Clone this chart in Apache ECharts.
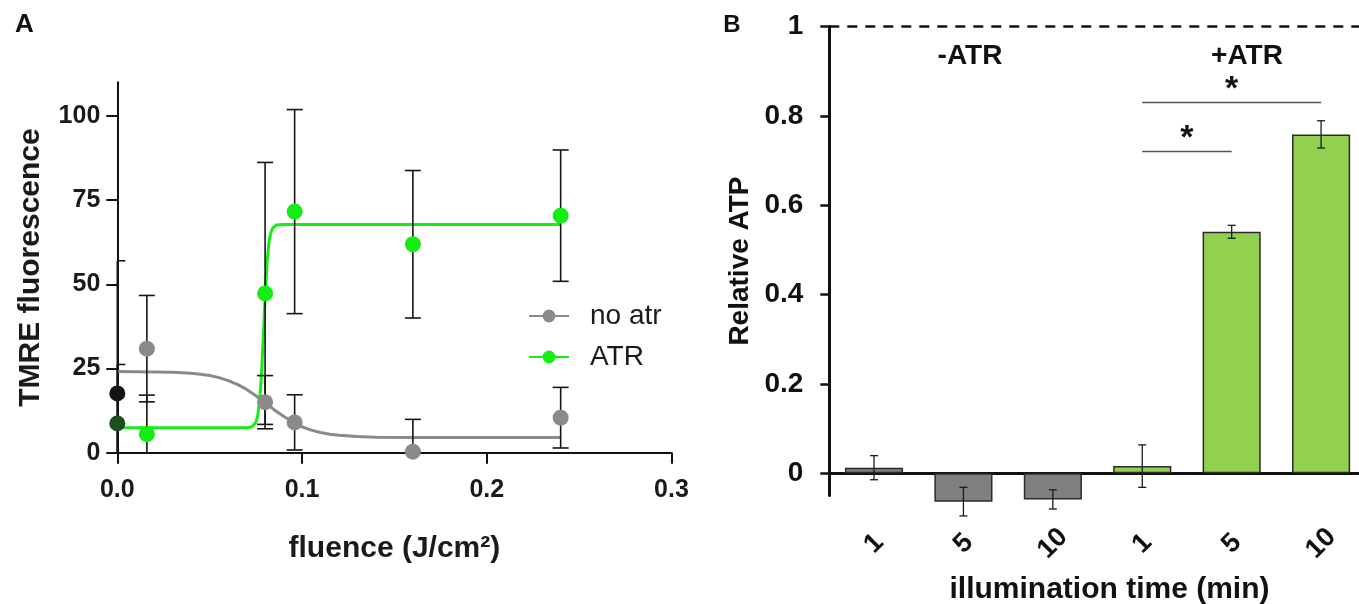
<!DOCTYPE html>
<html><head><meta charset="utf-8">
<script src="https://cdn.jsdelivr.net/npm/echarts@6/dist/echarts.min.js"></script>
<style>html,body{margin:0;padding:0;background:#fff}#c{width:1359px;height:604px}</style>
</head><body><div id="c"></div>
<script>
const FONT = '"Liberation Sans", Arial, Helvetica, sans-serif';

// ---- Panel A: TMRE fluorescence vs fluence ----
const fluence = [0, 0.016, 0.080, 0.096, 0.160, 0.240];
const noAtrMean = [17.6, 30.9, 15.0, 9.0, 0.3, 10.4];
const noAtrErr = [39.4, 15.8, 7.9, 8.2, 9.6, 9.0];
const atrMean = [8.7, 5.5, 47.3, 71.6, 61.9, 70.4];
const atrErr = [17.5, 11.6, 38.9, 30.3, 21.9, 19.5];
// fitted curves
const noAtrFitX = [0, 0.02, 0.03, 0.04, 0.045, 0.05, 0.055, 0.06, 0.065, 0.07, 0.075, 0.08, 0.085, 0.09, 0.095, 0.1, 0.105, 0.11, 0.115, 0.12, 0.13, 0.14, 0.16, 0.24];
const noAtrFitY = [24.1, 24.0, 23.9, 23.6, 23.3, 22.9, 22.3, 21.4, 20.3, 18.8, 16.9, 14.9, 12.7, 10.8, 9.1, 7.7, 6.7, 6.0, 5.5, 5.2, 4.8, 4.6, 4.5, 4.5];
const atrFitX = [0, 0.07, 0.073, 0.075, 0.076, 0.077, 0.078, 0.079, 0.080, 0.081, 0.082, 0.083, 0.084, 0.086, 0.09, 0.24];
const atrFitY = [7.4, 7.4, 7.7, 9.0, 11.0, 15.1, 22.7, 33.9, 46.1, 56.0, 62.1, 65.1, 66.6, 67.6, 67.8, 67.8];
const aYTicks = [0, 25, 50, 75, 100];

// ---- Panel B: relative ATP ----
const categories = ['-ATR 1', '-ATR 5', '-ATR 10', '+ATR 1', '+ATR 5', '+ATR 10'];
const timeLabels = ['1', '5', '10', '1', '5', '10'];
const atpMean = [0.0125, -0.0635, -0.0585, 0.016, 0.5405, 0.7585];
const atpErr = [0.027, 0.032, 0.0215, 0.0475, 0.0145, 0.0305];
const bYTicks = [0, 0.2, 0.4, 0.6, 0.8, 1];
const sigFrom = [3, 3];
const sigTo = [4, 5];
const sigLevel = [0.72, 0.83];
const sigMark = ['*', '*'];
const refLevel = 1;

const GRAY = '#8a8a8a', GREEN = '#14ee14';

function errA(params, api) {
  const x = api.value(0), lo = api.value(1), hi = api.value(2);
  const cs = params.coordSys;
  const p = api.coord([x, hi]), q = api.coord([x, lo]);
  const top = Math.max(p[1], cs.y), bot = Math.min(q[1], cs.y + cs.height);
  const cx = p[0], hw = 8;
  const st = { stroke: '#151515', lineWidth: 1.6 };
  const ch = [{ type: 'line', shape: { x1: cx, y1: top, x2: cx, y2: bot }, style: st }];
  const l = Math.max(cx - hw, cs.x);
  if (p[1] >= cs.y) ch.push({ type: 'line', shape: { x1: l, y1: p[1], x2: cx + hw, y2: p[1] }, style: st });
  if (q[1] <= cs.y + cs.height) ch.push({ type: 'line', shape: { x1: l, y1: q[1], x2: cx + hw, y2: q[1] }, style: st });
  return { type: 'group', children: ch };
}
function errB(params, api) {
  const x = api.value(0), lo = api.value(1), hi = api.value(2);
  const p = api.coord([x, hi]), q = api.coord([x, lo]);
  const hw = 4, st = { stroke: '#1a1a1a', lineWidth: 1.3 };
  return { type: 'group', children: [
    { type: 'line', shape: { x1: p[0], y1: p[1], x2: q[0], y2: q[1] }, style: st },
    { type: 'line', shape: { x1: p[0] - hw, y1: p[1], x2: p[0] + hw, y2: p[1] }, style: st },
    { type: 'line', shape: { x1: q[0] - hw, y1: q[1], x2: q[0] + hw, y2: q[1] }, style: st }
  ]};
}
function sigRender(params, api) {
  const a = api.coord([api.value(0), api.value(2)]);
  const b = api.coord([api.value(1), api.value(2)]);
  return { type: 'group', children: [
    { type: 'line', shape: { x1: a[0], y1: a[1], x2: b[0], y2: b[1] }, style: { stroke: '#555', lineWidth: 1.5 } },
    { type: 'text', x: (a[0] + b[0]) / 2, y: a[1] - 13, style: { text: sigMark[params.dataIndex], fontSize: 34, fontWeight: 'bold', fontFamily: FONT, fill: '#111', align: 'center', verticalAlign: 'middle' } }
  ]};
}

const chart = echarts.init(document.getElementById('c'), null, { renderer: 'canvas' });
chart.setOption({
  animation: false,
  textStyle: { fontFamily: FONT },
  grid: [
    { left: 117.3, top: 82.3, width: 554.2, height: 370.4, outerBoundsMode: 'none' },
    { left: 829.3, top: 26.5, width: 536.5, height: 469.1, outerBoundsMode: 'none' }
  ],
  legend: {
    left: 528, top: 302, orient: 'vertical', itemWidth: 40, itemHeight: 16, itemGap: 13, padding: 0,
    data: ['no atr', 'ATR'],
    textStyle: { fontSize: 28, fontFamily: FONT, color: '#1a1a1a', padding: [0, 0, 0, 16] }
  },
  xAxis: [
    {
      type: 'value', gridIndex: 0, min: 0, max: 0.3, interval: 0.1,
      axisLine: { onZero: false, lineStyle: { color: '#111', width: 2 } },
      axisTick: { length: 11, lineStyle: { color: '#111', width: 2 } },
      axisLabel: { fontSize: 25, fontWeight: 'bold', color: '#1a1a1a', margin: 25, formatter: v => v.toFixed(1) },
      splitLine: { show: false },
      name: 'fluence (J/cm²)', nameLocation: 'middle', nameGap: 81,
      nameTextStyle: { fontSize: 30, fontWeight: 'bold', color: '#1a1a1a' }
    },
    {
      type: 'category', gridIndex: 1, data: categories,
      axisLine: { onZero: true, lineStyle: { color: '#111', width: 3 } },
      axisTick: { show: false },
      axisLabel: { rotate: 45, align: 'center', verticalAlign: 'middle', margin: 48, fontSize: 27, fontWeight: 'bold', color: '#111', formatter: (v, i) => timeLabels[i] },
      splitLine: { show: false }
    }
  ],
  yAxis: [
    {
      type: 'value', gridIndex: 0, min: 0, max: 110,
      axisLine: { show: true, lineStyle: { color: '#111', width: 2 } },
      axisTick: { show: true, length: 11, customValues: aYTicks, lineStyle: { color: '#111', width: 2 } },
      axisLabel: { fontSize: 25, fontWeight: 'bold', color: '#1a1a1a', margin: 17, customValues: aYTicks },
      splitLine: { show: false },
      name: 'TMRE fluorescence', nameLocation: 'middle', nameGap: 72,
      nameTextStyle: { fontSize: 30, fontWeight: 'bold', color: '#1a1a1a' }
    },
    {
      type: 'value', gridIndex: 1, min: -0.05, max: 1,
      axisLine: { show: true, lineStyle: { color: '#111', width: 3 } },
      axisTick: { show: true, length: 9, customValues: bYTicks, lineStyle: { color: '#111', width: 2.5 } },
      axisLabel: { fontSize: 28, fontWeight: 'bold', color: '#111', margin: 26, customValues: bYTicks,
        formatter: v => (v === 0 ? '0' : v === 1 ? '1' : v.toFixed(1)) },
      splitLine: { show: false },
      name: 'Relative ATP', nameLocation: 'middle', nameGap: 75,
      nameTextStyle: { fontSize: 28, fontWeight: 'bold', color: '#111' }
    }
  ],
  graphic: [
    { type: 'text', x: 24.5, y: 24.5, style: { text: 'A', fontSize: 26, fontWeight: 'bold', fontFamily: FONT, fill: '#111', align: 'center', verticalAlign: 'middle' } },
    { type: 'text', x: 732, y: 25.5, style: { text: 'B', fontSize: 24, fontWeight: 'bold', fontFamily: FONT, fill: '#111', align: 'center', verticalAlign: 'middle' } },
    { type: 'text', x: 970, y: 56, style: { text: '-ATR', fontSize: 28, fontWeight: 'bold', fontFamily: FONT, fill: '#111', align: 'center', verticalAlign: 'middle' } },
    { type: 'text', x: 1247, y: 56, style: { text: '+ATR', fontSize: 28, fontWeight: 'bold', fontFamily: FONT, fill: '#111', align: 'center', verticalAlign: 'middle' } },
    { type: 'text', x: 1109.5, y: 590, style: { text: 'illumination time (min)', fontSize: 30, fontWeight: 'bold', fontFamily: FONT, fill: '#111', align: 'center', verticalAlign: 'middle' } }
  ],
  series: [
    {
      name: 'no atr', type: 'line', xAxisIndex: 0, yAxisIndex: 0, smooth: false,
      symbol: 'circle', showSymbol: false, color: GRAY, lineStyle: { color: GRAY, width: 3 }, z: 2,
      data: noAtrFitX.map((x, i) => [x, noAtrFitY[i]])
    },
    {
      name: 'ATR', type: 'line', xAxisIndex: 0, yAxisIndex: 0, smooth: false,
      symbol: 'circle', showSymbol: false, color: GREEN, lineStyle: { color: GREEN, width: 3 }, z: 2,
      data: atrFitX.map((x, i) => [x, atrFitY[i]])
    },
    {
      name: 'no atr err', type: 'custom', xAxisIndex: 0, yAxisIndex: 0, renderItem: errA, z: 3,
      encode: { x: 0, y: [1, 2] },
      data: fluence.map((x, i) => [x, noAtrMean[i] - noAtrErr[i], noAtrMean[i] + noAtrErr[i]])
    },
    {
      name: 'ATR err', type: 'custom', xAxisIndex: 0, yAxisIndex: 0, renderItem: errA, z: 3,
      encode: { x: 0, y: [1, 2] },
      data: fluence.map((x, i) => [x, atrMean[i] - atrErr[i], atrMean[i] + atrErr[i]])
    },
    {
      name: 'no atr points', type: 'scatter', xAxisIndex: 0, yAxisIndex: 0, symbolSize: 16, z: 4, clip: false,
      itemStyle: { color: p => (p.dataIndex === 0 ? '#141414' : GRAY), opacity: 1 },
      data: fluence.map((x, i) => [x, noAtrMean[i]])
    },
    {
      name: 'ATR points', type: 'scatter', xAxisIndex: 0, yAxisIndex: 0, symbolSize: 16, z: 4, clip: false,
      itemStyle: { color: p => (p.dataIndex === 0 ? '#1b4f1b' : GREEN), opacity: 1 },
      data: fluence.map((x, i) => [x, atrMean[i]])
    },
    {
      name: 'Relative ATP', type: 'bar', xAxisIndex: 1, yAxisIndex: 1, barWidth: '65%', clip: false, z: 2,
      itemStyle: { color: p => (p.dataIndex < 3 ? '#808080' : '#92d050'), borderColor: '#2b2b2b', borderWidth: 1.5 },
      data: atpMean,
      markLine: {
        silent: true, symbol: ['none', 'none'], label: { show: false },
        lineStyle: { type: [10, 8], color: '#111', width: 2.5 },
        data: [{ yAxis: refLevel }]
      }
    },
    {
      name: 'ATP err', type: 'custom', xAxisIndex: 1, yAxisIndex: 1, renderItem: errB, z: 3,
      encode: { x: 0, y: [1, 2] },
      data: atpMean.map((m, i) => [i, m - atpErr[i], m + atpErr[i]])
    },
    {
      name: 'significance', type: 'custom', xAxisIndex: 1, yAxisIndex: 1, renderItem: sigRender, z: 3,
      encode: { x: 0, y: 2 },
      data: sigFrom.map((f, i) => [f, sigTo[i], sigLevel[i]])
    }
  ]
});
</script></body></html>
